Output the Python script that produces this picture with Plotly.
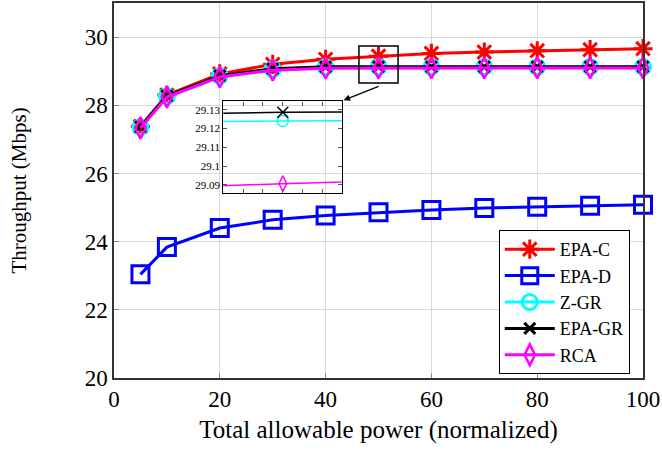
import plotly.graph_objects as go

x_power = [5, 10, 20, 30, 40, 50, 60, 70, 80, 90, 100]
epa_c = [27.38, 28.30, 28.92, 29.20, 29.35, 29.44, 29.52, 29.56, 29.60, 29.63, 29.66]
epa_d = [23.04, 23.84, 24.40, 24.64, 24.77, 24.86, 24.93, 24.99, 25.02, 25.05, 25.08]
z_gr = [27.36, 28.27, 28.86, 29.06, 29.1230, 29.1240, 29.1245, 29.1247, 29.1248, 29.1249, 29.1250]
epa_gr = [27.37, 28.28, 28.87, 29.07, 29.1270, 29.1287, 29.1292, 29.1295, 29.1297, 29.1298, 29.1299]
rca = [27.33, 28.24, 28.83, 29.03, 29.0870, 29.0907, 29.0935, 29.0950, 29.0960, 29.0965, 29.0970]

series_names = ["EPA-C", "EPA-D", "Z-GR", "EPA-GR", "RCA"]
x_ticks = [0, 20, 40, 60, 80, 100]
y_ticks = [20, 22, 24, 26, 28, 30]
inset_y_ticks = [29.09, 29.1, 29.11, 29.12, 29.13]
inset_y_text = ["29.09", "29.1", "29.11", "29.12", "29.13"]

FONT = "Liberation Serif"
styles = [
    dict(color="#ff0000", symbol="asterisk-open", size=16, lw=3),
    dict(color="#0000ff", symbol="square-open", size=17, lw=3),
    dict(color="#00ffff", symbol="circle-open", size=15, lw=3),
    dict(color="#000000", symbol="x-thin-open", size=11, lw=3),
    dict(color="#ff00ff", symbol="diamond-tall-open", size=15, lw=2.5),
]
data = [epa_c, epa_d, z_gr, epa_gr, rca]

fig = go.Figure()
for name, ys, st in zip(series_names, data, styles):
    fig.add_trace(go.Scatter(
        x=x_power, y=ys, name=name, mode="lines+markers",
        line=dict(color=st["color"], width=3),
        marker=dict(symbol=st["symbol"], size=st["size"], color=st["color"],
                    line=dict(color=st["color"], width=st["lw"])),
        cliponaxis=False, xaxis="x", yaxis="y",
    ))

# inset traces
for name, ys, st in zip(series_names, data, styles):
    if name in ("EPA-C", "EPA-D"):
        continue
    fig.add_trace(go.Scatter(
        x=x_power, y=ys, name=name, mode="lines+markers", showlegend=False,
        line=dict(color=st["color"], width=1.5),
        marker=dict(symbol=st["symbol"], size=11, color=st["color"],
                    line=dict(color=st["color"], width=1.5)),
        xaxis="x2", yaxis="y2",
    ))

fig.update_layout(
    width=662, height=456,
    margin=dict(l=114, r=19, t=1, b=78),
    paper_bgcolor="white", plot_bgcolor="rgba(0,0,0,0)",
    font=dict(family=FONT, color="black"),
    xaxis=dict(range=[0, 100], tickvals=x_ticks, showgrid=True, gridcolor="#d9d9d9", gridwidth=1,
               zeroline=False, showline=True, linecolor="#333", linewidth=1.5, mirror=True,
               ticks="inside", ticklen=5, tickcolor="#888", tickfont=dict(size=23, family=FONT),
               title=dict(text="Total allowable power (normalized)", font=dict(size=25, family=FONT), standoff=9)),
    yaxis=dict(range=[20, 31], tickvals=y_ticks, showgrid=True, gridcolor="#d9d9d9", gridwidth=1,
               zeroline=False, showline=True, linecolor="#333", linewidth=1.5, mirror=True,
               ticks="inside", ticklen=5, tickcolor="#888", tickfont=dict(size=23, family=FONT),
               title=dict(text="Throughput (Mbps)", font=dict(size=21, family=FONT), standoff=52)),
    xaxis2=dict(domain=[0.2066, 0.4316], anchor="y2", range=[47, 53], tickvals=[48, 49, 50, 51, 52],
                showticklabels=False, showgrid=False, zeroline=False, showline=True, linecolor="black",
                linewidth=1.2, mirror="ticks", ticks="inside", ticklen=4, tickcolor="#555"),
    yaxis2=dict(domain=[0.4942, 0.7374], anchor="x2", range=[29.0859, 29.1344], tickvals=inset_y_ticks,
                ticktext=inset_y_text, showgrid=False, zeroline=False, showline=True, linecolor="black",
                linewidth=1.2, mirror="ticks", ticks="inside", ticklen=4, tickcolor="#555",
                tickfont=dict(size=11, family=FONT)),
    legend=dict(x=0.975, y=0.0106, xanchor="right", yanchor="bottom", bgcolor="white",
                bordercolor="black", borderwidth=1, font=dict(size=18, family=FONT),
                tracegroupgap=0, itemwidth=50),
    showlegend=True,
)

fig.add_shape(type="rect", xref="x", yref="y", x0=46.3, x1=53.7, y0=28.65, y1=29.74,
              line=dict(color="black", width=1.5))
fig.add_annotation(xref="x", yref="y", axref="x", ayref="y", x=43.4, y=28.15, ax=50.3, ay=28.57,
                   showarrow=True, arrowhead=2, arrowsize=1, arrowwidth=1.3, arrowcolor="black", text="")

fig.write_html("out.html", config={"displayModeBar": False},
               post_script="document.body.style.margin='0';document.body.style.overflow='hidden';")
